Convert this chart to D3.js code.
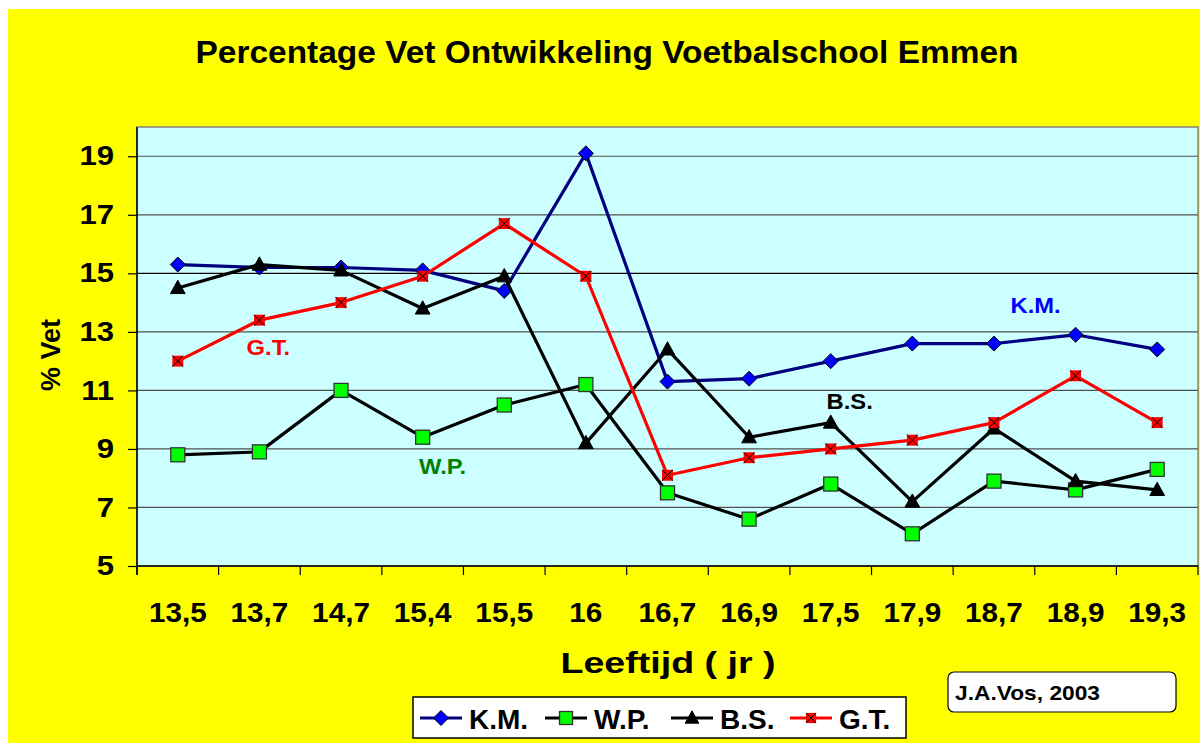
<!DOCTYPE html>
<html>
<head>
<meta charset="utf-8">
<script src="https://cdn.jsdelivr.net/npm/d3@7"></script>
<style>
  body { margin: 0; background: #fff; }
  svg { display: block; font-family: "Liberation Sans", Arial, sans-serif; font-weight: bold; }
</style>
</head>
<body>
<svg width="1200" height="743"></svg>
<script>
const ages = ['13,5', '13,7', '14,7', '15,4', '15,5', '16', '16,7', '16,9', '17,5', '17,9', '18,7', '18,9', '19,3'];
const km = [15.3, 15.2, 15.2, 15.1, 14.4, 19.1, 11.3, 11.4, 12.0, 12.6, 12.6, 12.9, 12.4];
const wp = [8.8, 8.9, 11.0, 9.4, 10.5, 11.2, 7.5, 6.6, 7.8, 6.1, 7.9, 7.6, 8.3];
const bs = [14.5, 15.3, 15.1, 13.8, 14.9, 9.2, 12.4, 9.4, 9.9, 7.2, 9.7, 7.9, 7.6];
const gt = [12.0, 13.4, 14.0, 14.9, 16.7, 14.9, 8.1, 8.7, 9.0, 9.3, 9.9, 11.5, 9.9];
const yTicks = [5, 7, 9, 11, 13, 15, 17, 19];

const series = [
    { name: 'K.M.', values: km, line: '#000080', fill: '#0000ff', shape: 'diamond', labelColor: '#0000ff' },
    { name: 'W.P.', values: wp, line: '#000000', fill: '#00ff00', shape: 'square', labelColor: '#008000' },
    { name: 'B.S.', values: bs, line: '#000000', fill: '#000000', shape: 'triangle', labelColor: '#000000' },
    { name: 'G.T.', values: gt, line: '#ff0000', fill: '#ff0000', shape: 'cross', labelColor: '#ff0000' },
];

// labels written inside the plot, anchored at category index + value
const notes = [
    { name: 'G.T.', at: 1, v: 12.2, dx: 9 },
    { name: 'K.M.', at: 11, v: 13.65, dx: -40 },
    { name: 'B.S.', at: 8, v: 10.36, dx: 19 },
    { name: 'W.P.', at: 3, v: 8.14, dx: 20 },
];

const svg = d3.select('svg');
const plot = { left: 137, top: 127, right: 1198, bottom: 566 };

// stretch text horizontally (the original font renders wider)
function stretch(sel, k) {
    sel.each(function () {
        const w = this.getComputedTextLength();
        d3.select(this).attr('textLength', w * k).attr('lengthAdjust', 'spacingAndGlyphs');
    });
}

svg.append('rect').attr('x', 8).attr('y', 9).attr('width', 1192).attr('height', 734).attr('fill', '#ffff00');

const x = d3.scaleBand().domain(ages).range([plot.left, plot.right]);
const y = d3.scaleLinear().domain([5, 20]).range([plot.bottom, plot.top]);
const cx = i => x(ages[i]) + x.bandwidth() / 2;

svg.append('rect')
    .attr('x', plot.left).attr('y', plot.top)
    .attr('width', plot.right - plot.left).attr('height', plot.bottom - plot.top)
    .attr('fill', '#ccffff').attr('stroke', '#808080').attr('stroke-width', 1.5);

// gridlines
svg.append('g').selectAll('line')
    .data(yTicks.filter(t => t > 5))
    .enter().append('line')
    .attr('x1', plot.left).attr('x2', plot.right)
    .attr('y1', d => y(d)).attr('y2', d => y(d))
    .attr('stroke', d => d === 15 ? '#000' : '#505050').attr('stroke-width', 1.2);

// y axis
const yAxis = svg.append('g')
    .attr('transform', `translate(${plot.left},0)`)
    .call(d3.axisLeft(y).tickValues(yTicks).tickSize(9).tickPadding(14));
yAxis.select('.domain').attr('d', `M0,${plot.top}V${plot.bottom + 9}`).attr('stroke', '#000').attr('stroke-width', 1.5);
yAxis.selectAll('.tick line').attr('stroke', '#000').attr('stroke-width', 1.2);
yAxis.selectAll('.tick text').attr('font-size', 27).attr('font-weight', 'bold')
    .attr('font-family', '"Liberation Sans", Arial, sans-serif').attr('fill', '#000')
    .call(stretch, 1.15);

// x axis with ticks on band edges
const xAxis = svg.append('g').attr('transform', `translate(0,${plot.bottom})`);
xAxis.append('line').attr('x1', plot.left).attr('x2', plot.right).attr('stroke', '#000').attr('stroke-width', 1.5);
xAxis.selectAll('.edge')
    .data(ages.concat(['end']))
    .enter().append('line')
    .attr('x1', (d, i) => plot.left + i * x.bandwidth())
    .attr('x2', (d, i) => plot.left + i * x.bandwidth())
    .attr('y1', 0).attr('y2', 9).attr('stroke', '#000').attr('stroke-width', 1.2);
xAxis.selectAll('.lbl')
    .data(ages)
    .enter().append('text')
    .attr('x', d => x(d) + x.bandwidth() / 2)
    .attr('y', 56)
    .attr('text-anchor', 'middle')
    .attr('font-size', 27)
    .text(d => d)
    .call(stretch, 1.1);

// marker drawing
function marker(g, shape, fill, s) {
    if (shape === 'diamond') {
        g.append('path').attr('d', `M0,${-s}L${s},0L0,${s}L${-s},0Z`).attr('fill', fill).attr('stroke', '#000').attr('stroke-width', 1);
    } else if (shape === 'square') {
        g.append('rect').attr('x', -s).attr('y', -s).attr('width', 2 * s).attr('height', 2 * s)
            .attr('fill', fill).attr('stroke', '#333').attr('stroke-width', 1.3);
    } else if (shape === 'triangle') {
        g.append('path').attr('d', `M0,${-s * 1.1}L${s * 1.05},${s * 0.8}L${-s * 1.05},${s * 0.8}Z`).attr('fill', fill).attr('stroke', '#000');
    } else {
        const h = s * 0.78;
        g.append('rect').attr('x', -h).attr('y', -h).attr('width', 2 * h).attr('height', 2 * h).attr('fill', fill);
        g.append('path').attr('d', `M${-h},${-h}L${h},${h}M${h},${-h}L${-h},${h}`).attr('stroke', '#000').attr('stroke-width', 1);
    }
}

const line = d3.line().x((d, i) => cx(i)).y(d => y(d));

series.forEach(s => {
    const g = svg.append('g');
    g.append('path').datum(s.values).attr('d', line)
        .attr('fill', 'none').attr('stroke', s.line).attr('stroke-width', 3.2).attr('stroke-linejoin', 'round');
    s.values.forEach((v, i) => {
        const m = g.append('g').attr('transform', `translate(${cx(i)},${y(v)})`);
        marker(m, s.shape, s.fill, s.shape === 'diamond' ? 7.5 : 7);
    });
});

// in-plot labels
notes.forEach(n => {
    const s = series.find(d => d.name === n.name);
    svg.append('text')
        .attr('x', cx(n.at) + n.dx).attr('y', y(n.v))
        .attr('text-anchor', 'middle').attr('font-size', 22)
        .attr('fill', s.labelColor).text(n.name)
        .call(stretch, 1.08);
});

// titles
svg.append('text').attr('x', 607).attr('y', 63).attr('text-anchor', 'middle')
    .attr('font-size', 31).text('Percentage Vet Ontwikkeling Voetbalschool Emmen')
    .attr('textLength', 823).attr('lengthAdjust', 'spacingAndGlyphs');
svg.append('text').attr('x', 668).attr('y', 673).attr('text-anchor', 'middle')
    .attr('font-size', 29).text('Leeftijd ( jr )')
    .attr('textLength', 215).attr('lengthAdjust', 'spacingAndGlyphs');
svg.append('text').attr('transform', 'translate(60,355) rotate(-90)').attr('text-anchor', 'middle')
    .attr('font-size', 27).text('% Vet')
    .attr('textLength', 72).attr('lengthAdjust', 'spacingAndGlyphs');

// legend
const legend = svg.append('g');
legend.append('rect').attr('x', 413).attr('y', 697).attr('width', 493).attr('height', 41)
    .attr('fill', '#fff').attr('stroke', '#000').attr('stroke-width', 1.5);
const legendX = [420, 545, 671, 790];
series.forEach((s, i) => {
    const lg = legend.append('g').attr('transform', `translate(${legendX[i]},718)`);
    lg.append('line').attr('x1', 0).attr('x2', 42).attr('stroke', s.line).attr('stroke-width', 3.2);
    marker(lg.append('g').attr('transform', 'translate(21,0)'), s.shape, s.fill, s.shape === 'diamond' ? 7.5 : 6.5);
    lg.append('text').attr('x', 49).attr('y', 11).attr('font-size', 28).text(s.name);
});

// credit box
svg.append('rect').attr('x', 948).attr('y', 672).attr('width', 228).attr('height', 40).attr('rx', 6)
    .attr('fill', '#fff').attr('stroke', '#000').attr('stroke-width', 1.2);
svg.append('text').attr('x', 955).attr('y', 700).attr('font-size', 21).text('J.A.Vos, 2003')
    .attr('textLength', 145).attr('lengthAdjust', 'spacingAndGlyphs');
</script>
</body>
</html>
